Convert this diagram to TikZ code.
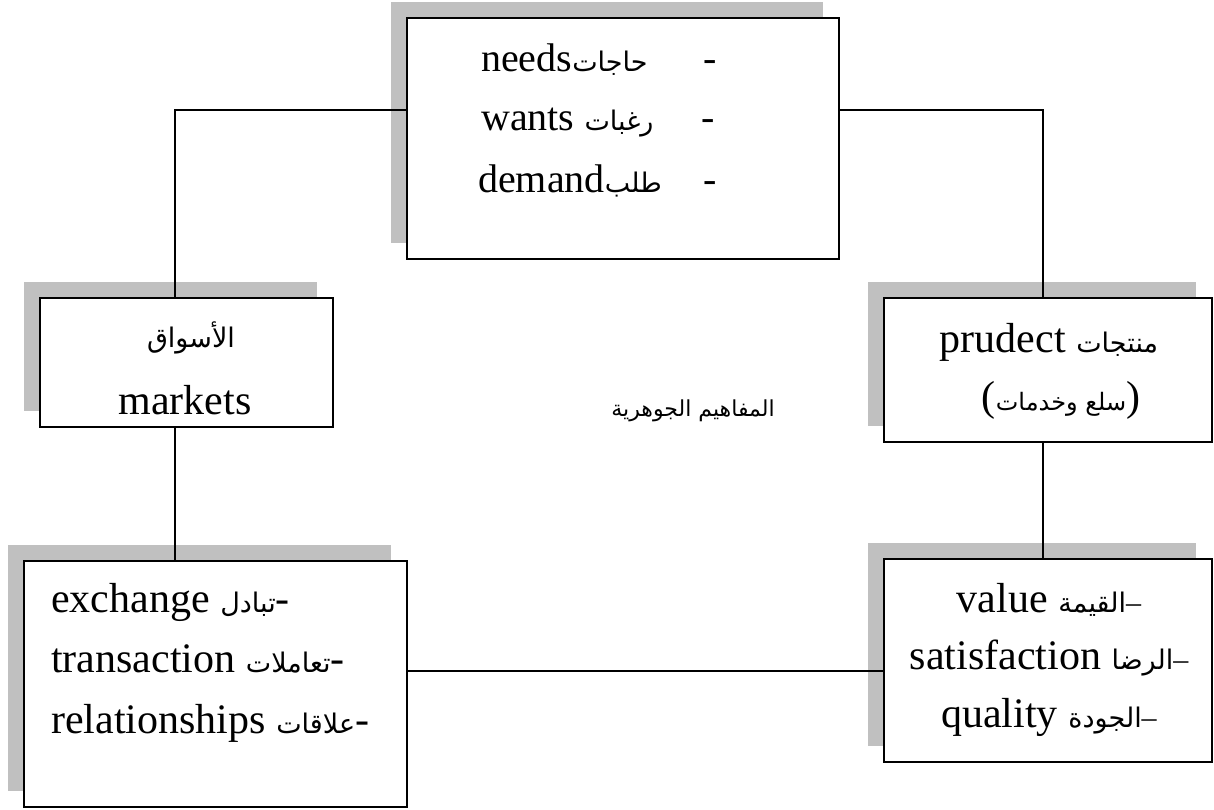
\documentclass[tikz,border=0pt]{standalone}
\usepackage{fontspec}
\setmainfont{Liberation Serif}
\newfontfamily\arabicfont[Script=Arabic]{DejaVu Sans}
\TeXXeTstate=1
\usetikzlibrary{shadows}
% Arabic words: smaller DejaVu Sans, set right to left
\newcommand{\arb}[1]{{\arabicfont\fontsize{27}{32}\selectfont\beginR #1\endR}}
\newcommand{\arbsmall}[1]{{\arabicfont\fontsize{24}{28}\selectfont\beginR #1\endR}}
\newcommand{\ardash}{{\fontsize{30}{36}\selectfont –}}
\definecolor{shadegrey}{RGB}{192,192,192}

\begin{document}
\begin{tikzpicture}[x=1pt,y=-1pt,
  box/.style={draw=black, line width=1.6pt, fill=white, inner sep=0pt,
    general shadow={fill=shadegrey, shadow xshift=-16pt, shadow yshift=16pt}},
  wire/.style={line width=1.6pt},
  txt/.style={inner sep=0pt, font=\fontsize{42}{50}\selectfont},
  toptxt/.style={inner sep=0pt, font=\fontsize{40}{48}\selectfont}]
\useasboundingbox (0,0) rectangle (1214,810);

% boxes
\node[box, minimum width=432pt, minimum height=241pt] (top) at (623,138.5) {};
\node[box, minimum width=293pt, minimum height=129pt] (markets) at (186.5,362.5) {};
\node[box, minimum width=328pt, minimum height=144pt] (product) at (1048,370) {};
\node[box, minimum width=383pt, minimum height=246pt] (exchange) at (215.5,684) {};
\node[box, minimum width=328pt, minimum height=203pt] (value) at (1048,660.5) {};

% connectors
\coordinate (jl) at (175,110);
\coordinate (jr) at (1043,110);
\coordinate (jb) at (0,671);
\draw[wire] (top.west |- jl) -- (jl) -- (jl |- markets.north);
\draw[wire] (top.east |- jr) -- (jr) -- (jr |- product.north);
\draw[wire] (jl |- markets.south) -- (jl |- exchange.north);
\draw[wire] (jr |- product.south) -- (jr |- value.north);
\draw[wire] (exchange.east |- jb) -- (value.west |- jb);

% top box
\node[toptxt, anchor=base west] (t1) at (481,72) {\makebox[236pt][l]{needs\arb{حاجات}\hfill-}};
\node[toptxt, anchor=base west] (t2) at (481,131) {\makebox[234pt][l]{wants \arb{رغبات}\hfill-}};
\node[toptxt, anchor=base west] (t3) at (478,193) {\makebox[239pt][l]{demand\arb{طلب}\hfill-}};

% markets
\node[txt, anchor=base] (m1) at (191,347) {\arb{الأسواق}};
\node[txt, anchor=base] (m2) at (185,414) {markets};

% products
\node[txt, anchor=base] (p1) at (1049,352) {prudect \arb{منتجات}};
\node[txt, anchor=base] (p2) at (1061,410) {(\arbsmall{سلع وخدمات})};

% exchange box
\node[txt, anchor=base west] (e1) at (51,612) {exchange \arb{تبادل}-};
\node[txt, anchor=base west] (e2) at (51,672) {transaction \arb{تعاملات}-};
\node[txt, anchor=base west] (e3) at (51,733) {relationships \arb{علاقات}-};

% value box
\node[txt, anchor=base] (v1) at (1049,612) {value \arb{القيمة}\ardash};
\node[txt, anchor=base] (v2) at (1049,669) {satisfaction \arb{الرضا}\ardash};
\node[txt, anchor=base] (v3) at (1049,727) {quality \arb{الجودة}\ardash};

% centre caption
\node[inner sep=0pt, anchor=base] (core) at (693,416)
  {\arabicfont\fontsize{22}{26}\selectfont\beginR المفاهيم الجوهرية\endR};
\end{tikzpicture}
\end{document}
